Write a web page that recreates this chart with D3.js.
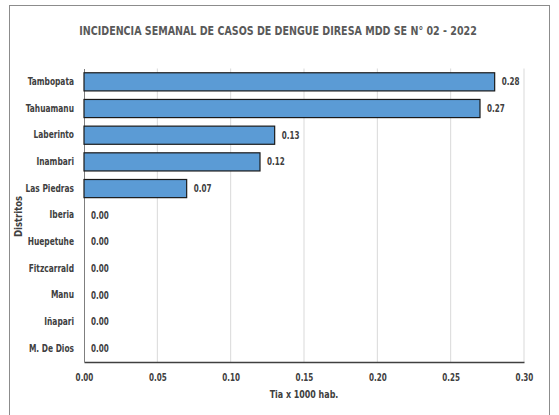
<!DOCTYPE html>
<html>
<head>
<meta charset="utf-8">
<script src="https://cdn.jsdelivr.net/npm/d3@7"></script>
<style>
  body { margin: 0; background: #fff; }
  text { font-family: "DejaVu Sans Condensed", "DejaVu Sans", sans-serif; fill: #404040; }
</style>
</head>
<body>
<div id="chart-area"></div>
<script>
// data
const districts = ["Tambopata", "Tahuamanu", "Laberinto", "Inambari", "Las Piedras",
  "Iberia", "Huepetuhe", "Fitzcarrald", "Manu", "Iñapari", "M. De Dios"]
const rates = [0.28, 0.27, 0.13, 0.12, 0.07, 0, 0, 0, 0, 0, 0]
const xTicks = [0, 0.05, 0.10, 0.15, 0.20, 0.25, 0.30]

const W = 559, H = 415
const MARGIN = { LEFT: 84, RIGHT: 35, TOP: 68.5, BOTTOM: 53 }
const WIDTH = W - MARGIN.LEFT - MARGIN.RIGHT
const HEIGHT = H - MARGIN.TOP - MARGIN.BOTTOM

// squeeze text horizontally, the original font is a narrow one
function condense(sel, k) {
  sel.each(function () {
    const len = this.getComputedTextLength()
    d3.select(this)
      .attr("textLength", len * k)
      .attr("lengthAdjust", "spacingAndGlyphs")
  })
}

const svg = d3.select("#chart-area").append("svg")
  .attr("width", W)
  .attr("height", H)

// chart border
svg.append("rect")
  .attr("x", 9.5).attr("y", 5.5)
  .attr("width", 540).attr("height", 420)
  .attr("fill", "none")
  .attr("stroke", "#8c8c8c")

svg.append("text")
  .attr("x", 278)
  .attr("y", 34.5)
  .attr("text-anchor", "middle")
  .attr("font-size", 11.5)
  .attr("font-weight", "bold")
  .style("fill", "#595959")
  .text("INCIDENCIA SEMANAL DE CASOS DE DENGUE DIRESA MDD SE N° 02 - 2022")
  .call(condense, 0.92)

const g = svg.append("g")
  .attr("transform", `translate(${MARGIN.LEFT}, ${MARGIN.TOP})`)

const x = d3.scaleLinear()
  .domain([0, 0.30])
  .range([0, WIDTH])

const y = d3.scaleBand()
  .domain(districts)
  .range([0, HEIGHT])
  .paddingInner(0.32)
  .paddingOuter(0.16)

// gridlines
g.selectAll("line.grid")
  .data(xTicks.slice(1))
  .enter().append("line")
  .attr("class", "grid")
  .attr("x1", d => x(d)).attr("x2", d => x(d))
  .attr("y1", 0).attr("y2", HEIGHT)
  .attr("stroke", "#d9d9d9")

// x axis
const xAxisCall = d3.axisBottom(x)
  .tickValues(xTicks)
  .tickFormat(d3.format(".2f"))
  .tickSize(0)
  .tickPadding(12)
const xAxis = g.append("g")
  .attr("transform", `translate(0, ${HEIGHT})`)
  .call(xAxisCall)
xAxis.attr("font-family", null)
xAxis.select(".domain").attr("stroke", "#404040").attr("stroke-width", 1.3)
xAxis.selectAll("text")
  .attr("font-size", 10)
  .attr("font-weight", "bold")
  .call(condense, 0.8)

// y axis
const yAxisCall = d3.axisLeft(y)
  .tickSize(0)
  .tickPadding(10)
const yAxis = g.append("g").call(yAxisCall)
yAxis.attr("font-family", null)
yAxis.select(".domain").attr("stroke", "#7f7f7f")
yAxis.selectAll("text")
  .attr("font-size", 10)
  .attr("font-weight", "bold")
  .call(condense, 0.83)

// bars
g.selectAll("rect.bar")
  .data(rates)
  .enter().append("rect")
  .attr("class", "bar")
  .attr("x", 0)
  .attr("y", (d, i) => y(districts[i]))
  .attr("width", d => x(d))
  .attr("height", y.bandwidth())
  .attr("fill", "#5b9bd5")
  .attr("stroke", d => d > 0 ? "#1a1a1a" : "none")
  .attr("stroke-width", 1.2)

// value labels
g.selectAll("text.val")
  .data(rates)
  .enter().append("text")
  .attr("class", "val")
  .attr("x", d => x(d) + 7)
  .attr("y", (d, i) => y(districts[i]) + y.bandwidth() / 2)
  .attr("dy", "0.35em")
  .attr("font-size", 10)
  .attr("font-weight", "bold")
  .text(d => d3.format(".2f")(d))
  .call(condense, 0.8)

// axis labels
g.append("text")
  .attr("x", WIDTH * 0.5)
  .attr("y", HEIGHT + 35.5)
  .attr("text-anchor", "middle")
  .attr("font-size", 10.5)
  .attr("font-weight", "bold")
  .text("Tia x 1000 hab.")
  .call(condense, 0.84)

g.append("text")
  .attr("transform", "rotate(-90)")
  .attr("x", -(216.5 - MARGIN.TOP))
  .attr("y", 18 - MARGIN.LEFT)
  .attr("dy", "0.35em")
  .attr("text-anchor", "middle")
  .attr("font-size", 10.5)
  .attr("font-weight", "bold")
  .text("Distritos")
  .call(condense, 0.9)
</script>
</body>
</html>
